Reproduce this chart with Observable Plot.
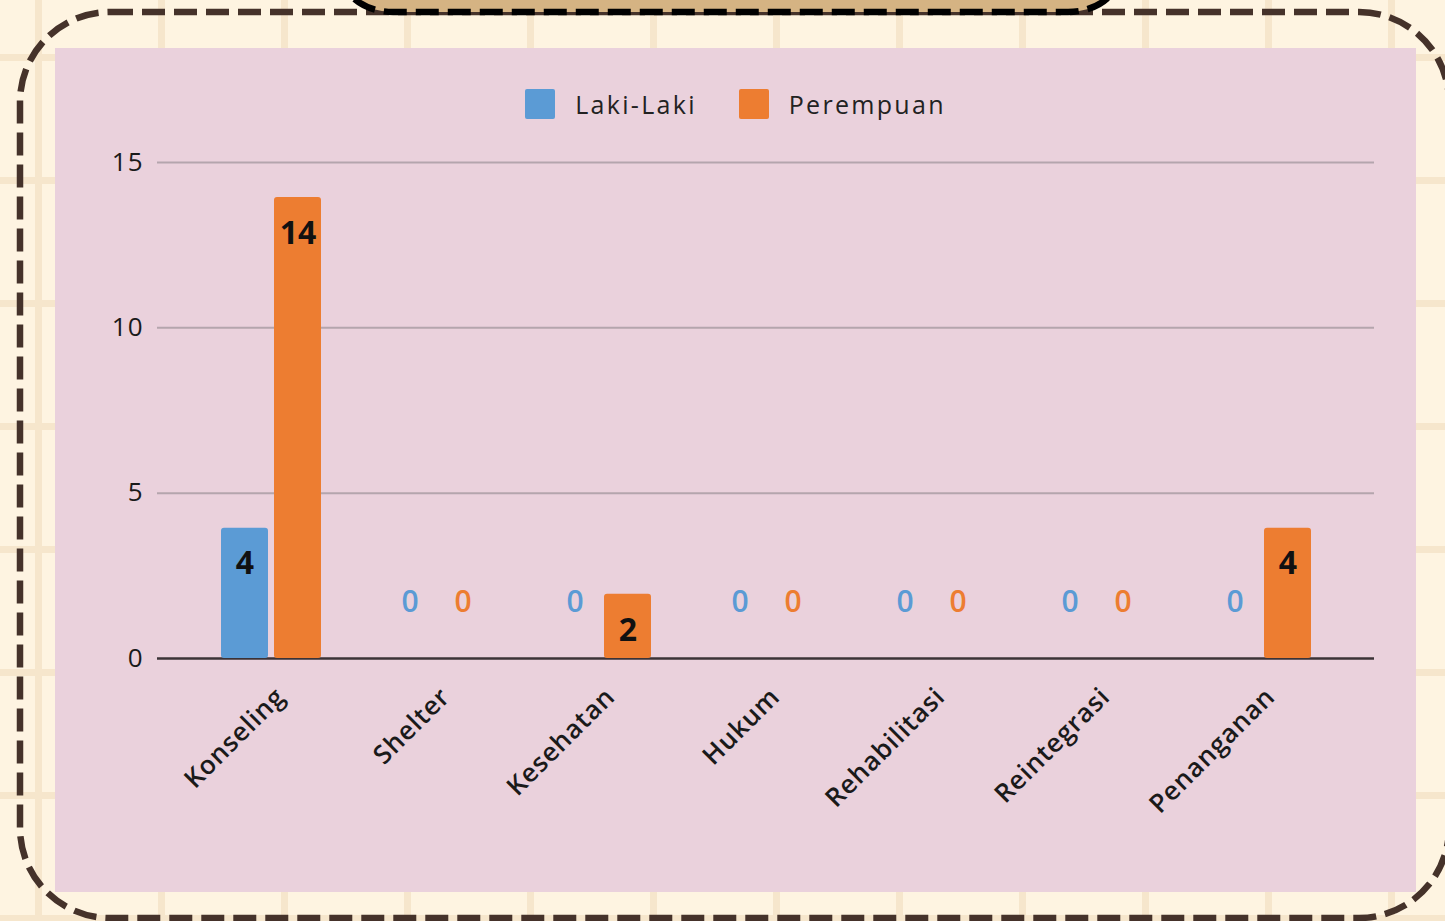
<!DOCTYPE html>
<html>
<head>
<meta charset="utf-8">
<script src="https://cdn.jsdelivr.net/npm/d3@7"></script>
<script src="https://cdn.jsdelivr.net/npm/@observablehq/plot@0.6"></script>
<style>
  html, body { margin: 0; padding: 0; }
  body {
    width: 1445px; height: 921px; overflow: hidden; position: relative;
    background-color: #fef4e1;
    background-image:
      linear-gradient(to right, #f6e6cc 7px, transparent 7px),
      linear-gradient(to bottom, #f6e6cc 7px, transparent 7px);
    background-size: 123px 123px;
    background-position: 35px 54px;
    font-family: "Open Sans", sans-serif;
  }
  #deco { position: absolute; left: 0; top: 0; }
  #panel {
    position: absolute; left: 55px; top: 48px; width: 1361px; height: 844px;
    background: #ead1dc;
  }
  #chart { position: absolute; left: 0; top: 0; }
  #legend { position: absolute; left: 0; top: 39px; width: 1361px; }
  .lg-swatches { justify-content: center; font-family: "Open Sans", sans-serif; font-size: 25px !important; font-weight: 500; letter-spacing: 2.3px; color: #222; margin: 0 !important; }
  .lg-swatch { margin-right: 42px !important; }
  .lg-swatch:last-child { margin-right: 0 !important; }
  .lg-swatch > svg { margin-right: 20px !important; }
  .lg-swatch rect { rx: 2px; }
  #chart g[aria-label="x-axis tick label"] text { letter-spacing: 0.8px; }
  #chart g[aria-label="y-axis tick label"] text { letter-spacing: 1px; }
</style>
</head>
<body>
<svg id="deco" width="1445" height="921">
  <rect x="20" y="12" width="1429" height="906" rx="90" ry="90" fill="none" stroke="#45322a" stroke-width="6.5" stroke-dasharray="23 9"/>
  <rect x="343" y="-60" width="775" height="72" rx="50" ry="50" fill="#d5b383" stroke="#000" stroke-width="6.5" stroke-dasharray="23 9"/>
</svg>
<div id="panel">
  <div id="chart"></div>
  <div id="legend"></div>
</div>
<script>
const categories = ["Konseling", "Shelter", "Kesehatan", "Hukum", "Rehabilitasi", "Reintegrasi", "Penanganan"];
const lakiLaki = [4, 0, 0, 0, 0, 0, 0];
const perempuan = [14, 0, 2, 0, 0, 0, 4];
const seriesNames = ["Laki-Laki", "Perempuan"];
const seriesColors = ["#5b9bd5", "#ed7d31"];
const yTicks = [0, 5, 10, 15];

const rows = [];
categories.forEach((c, i) => {
  rows.push({category: c, series: seriesNames[0], value: lakiLaki[i]});
  rows.push({category: c, series: seriesNames[1], value: perempuan[i]});
});
const s0 = rows.filter(d => d.series === seriesNames[0]);
const s1 = rows.filter(d => d.series === seriesNames[1]);

const chart = Plot.plot({
  width: 1361,
  height: 844,
  marginLeft: 102,
  marginRight: 42,
  marginTop: 114,
  marginBottom: 234,
  style: {background: "transparent", fontFamily: "'Open Sans', sans-serif", color: "#1a1a1a"},
  x: {domain: categories, paddingInner: 0.395, paddingOuter: 0.381, label: null},
  y: {domain: [0, 15], label: null},
  color: {domain: seriesNames, range: seriesColors},
  marks: [
    Plot.gridY(yTicks.filter(d => d > 0), {stroke: "#b4a5ad", strokeOpacity: 1, strokeWidth: 2}),
    Plot.ruleY([0], {stroke: "#3b3337", strokeWidth: 2.5}),
    Plot.barY(s0.filter(d => d.value > 0), {x: "category", y: "value", fill: "series", insetRight: 53, insetTop: 2, rx: 3}),
    Plot.barY(s1.filter(d => d.value > 0), {x: "category", y: "value", fill: "series", insetLeft: 53, insetTop: 2, rx: 3}),
    Plot.text(s0.filter(d => d.value > 0), {x: "category", y: "value", text: "value", dx: -26.5, dy: 38, fill: "#111", fontSize: 32, fontWeight: "bold"}),
    Plot.text(s1.filter(d => d.value > 0), {x: "category", y: "value", text: "value", dx: 26.5, dy: 38, fill: "#111", fontSize: 32, fontWeight: "bold"}),
    Plot.text(s0.filter(d => d.value === 0), {x: "category", y: "value", text: "value", dx: -26.5, dy: -56, fill: "series", fontSize: 30, fontWeight: 600}),
    Plot.text(s1.filter(d => d.value === 0), {x: "category", y: "value", text: "value", dx: 26.5, dy: -56, fill: "series", fontSize: 30, fontWeight: 600}),
    Plot.axisY({ticks: yTicks, tickSize: 0, tickPadding: 14, fontSize: 26, label: null}),
    Plot.axisX({tickRotate: -45, tickSize: 0, tickPadding: 34, dx: 9, fontSize: 26, fontWeight: 600, label: null})
  ]
});
document.getElementById("chart").appendChild(chart);
const legend = chart.legend("color", {swatchSize: 30, className: "lg"});
document.getElementById("legend").appendChild(legend);
</script>
</body>
</html>
